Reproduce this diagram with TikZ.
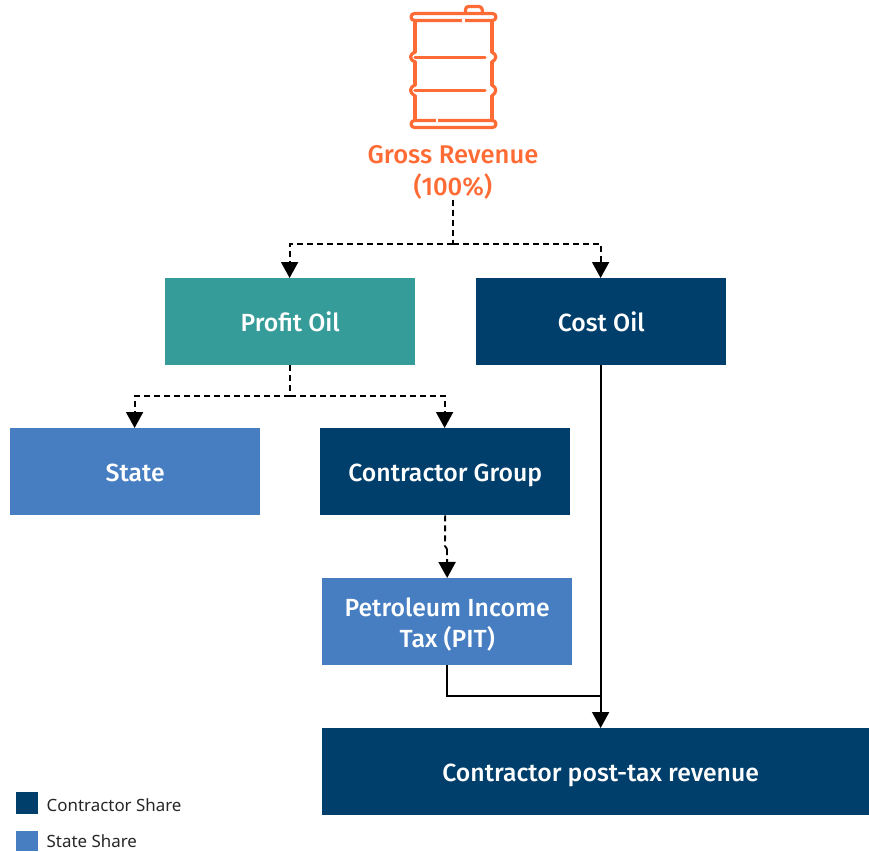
\documentclass[tikz,border=0pt]{standalone}
\usepackage{fontspec}
\setmainfont[UprightFont={* Medium}]{Fira Sans}
\newfontfamily\legendfont{Noto Sans}
\usetikzlibrary{arrows.meta,calc}
\definecolor{darkb}{HTML}{003F6B}
\definecolor{tealb}{HTML}{359C99}
\definecolor{blueb}{HTML}{467EC1}
\definecolor{orangeb}{HTML}{FF6B35}
\newcommand{\boxline}[1]{\raisebox{-10pt}[0pt][0pt]{#1}}
\tikzset{
  box/.style={draw=none,minimum height=87pt,minimum width=250pt,inner sep=0pt,anchor=north west,text=white,align=center,font=\fontsize{24.8}{31}\selectfont},
  flow/.style={line width=1.9pt,black,-{Triangle[length=16pt,width=17pt]}},
  flowd/.style={flow,dash pattern=on 6pt off 4pt},
  plain/.style={line width=1.9pt,black},
  plaind/.style={plain,dash pattern=on 6pt off 4pt},
  barrel/.style={draw=orangeb,line width=3.2pt,line cap=round,line join=round},
  legendbox/.style={draw=none,inner sep=0pt,minimum width=22pt,anchor=north west},
  legendtext/.style={anchor=west,inner sep=0pt,text=black!85,font=\legendfont\fontsize{16.9}{18}\selectfont}
}
\begin{document}
\begin{tikzpicture}[x=1pt,y=-1pt]
\useasboundingbox (0,0) rectangle (869,851);
% barrel
\draw[barrel,rounded corners=3.5pt] (411,13.5) rectangle (496,20.5);
\draw[barrel,rounded corners=3pt] (465.5,13) -- (465.5,6.5) -- (482,6.5) -- (482.5,13);
\draw[draw=white,line width=3pt] (461.5,20.5) -- (464.5,20.5);
\draw[barrel] (415,21) -- (415,52);
\draw[barrel] (415,62) -- (415,85);
\draw[barrel] (415,96) -- (415,120);
\draw[barrel] (492,21) -- (492,52);
\draw[barrel] (492,62) -- (492,85);
\draw[barrel] (492,96) -- (492,120);
\draw[barrel] (415,52) .. controls (409,55) and (409,59) .. (415,62);
\draw[barrel] (415,85) .. controls (409,88) and (409,92) .. (415,96);
\draw[barrel] (492,52) .. controls (497,55) and (497,59) .. (492,62);
\draw[barrel] (492,85) .. controls (497,88) and (497,92) .. (492,96);
\draw[barrel] (415,57.5) -- (485,57.5);
\draw[barrel] (415,90.5) -- (485,90.5);
\draw[barrel,rounded corners=3.5pt] (411,120.5) rectangle (496,127.5);
\draw[draw=white,line width=4pt] (436,120.5) -- (438,120.5);
% title
\node[inner sep=0pt,align=center,text=orangeb,font=\fontsize{25.6}{32}\selectfont] (gross) at (453,172.5) {Gross Revenue\\(100\%)};
% boxes
\node[box,fill=tealb] (profit) at (165,278) {\boxline{Profit Oil}};
\node[box,fill=darkb] (cost) at (476,278) {\boxline{Cost Oil}};
\node[box,fill=blueb] (state) at (10,428) {\boxline{State}};
\node[box,fill=darkb] (contractor) at (320,428) {\boxline{Contractor Group}};
\node[box,fill=blueb] (pit) at (322,578) {\boxline{Petroleum Income}\\\boxline{Tax (PIT)}};
\node[box,fill=darkb,minimum width=547pt] (post) at (322,728) {\boxline{\hspace*{10pt}Contractor post-tax revenue}};
% junctions
\coordinate (tp) at ([xshift=-0.6pt]profit.north);
\coordinate (tc) at ([xshift=-0.6pt]cost.north);
\coordinate (ts) at ([xshift=-0.6pt]state.north);
\coordinate (tg) at ([xshift=-0.6pt]contractor.north);
\coordinate (sp) at ([xshift=-0.6pt]profit.south);
\coordinate (sc) at ([xshift=-0.6pt]cost.south);
\coordinate (j1) at (453,244);
\coordinate (j2) at (sp |- 0,396);
\coordinate (j3) at (sc |- 0,696);
\coordinate (ep) at (sc |- post.north);
\coordinate (j4) at (445,546);
\coordinate (j5) at (447,549);
% connectors
\draw[plaind] (gross.south -| j1) -- (j1);
\draw[flowd] (j1) -| (tp);
\draw[flowd] (j1) -| (tc);
\draw[plaind] (sp) -- (j2);
\draw[flowd] (j2) -| (ts);
\draw[flowd] (j2) -| (tg);
\draw[plaind] (contractor.south) -- (j4) -- (j5);
\draw[flowd] (j5) -- (pit.north);
\draw[plain] (pit.south) |- (j3);
\draw[flow] (sc) -- (ep);
% legend
\node[legendbox,fill=darkb,minimum height=22pt] (leg1) at (16,792) {};
\node[legendbox,fill=blueb,minimum height=20pt] (leg2) at (16,831) {};
\node[legendtext] (leg1t) at (46.5,805) {Contractor Share};
\node[legendtext] (leg2t) at (46.5,841.5) {State Share};
\end{tikzpicture}
\end{document}
